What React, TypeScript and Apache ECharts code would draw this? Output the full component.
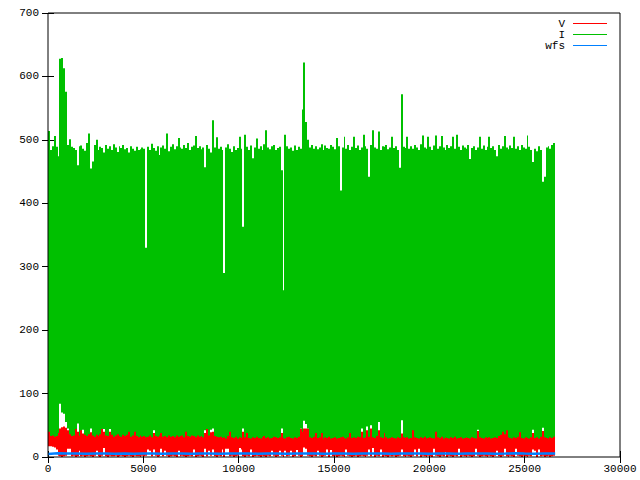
import React, { useEffect, useRef } from "react";
import * as echarts from "echarts";

// x step of one sample bin (units of the x axis), and end of the data
const BIN_STEP = 100;
const DATA_END = 26600;

// I (green): per-bin maximum
const I_HIGH = [
  514, 484, 490, 506, 489, 474, 628, 629, 613, 576,
  492, 501, 489, 487, 484, 460, 490, 491, 486, 483,
  495, 510, 455, 466, 492, 500, 484, 489, 487, 480,
  492, 486, 490, 484, 493, 488, 481, 490, 487, 492,
  485, 487, 480, 490, 486, 483, 489, 484, 485, 488,
  486, 330, 489, 484, 494, 487, 483, 490, 476, 488,
  491, 486, 510, 482, 489, 493, 485, 490, 503, 488,
  486, 492, 487, 495, 484, 489, 491, 506, 487, 490,
  485, 488, 457, 492, 486, 480, 531, 488, 504, 486,
  489, 484, 290, 488, 493, 486, 481, 490, 484, 487,
  505, 486, 363, 508, 489, 484, 491, 471, 488, 502,
  486, 490, 484, 493, 515, 488, 485, 490, 492, 484,
  487, 489, 452, 263, 508, 490, 486, 488, 483, 491,
  484, 489, 486, 548, 622, 528, 500, 488, 492, 486,
  490, 485, 488, 493, 484, 491, 487, 486, 492, 489,
  485, 503, 490, 420, 488, 505, 486, 492, 484, 489,
  505, 487, 491, 484, 488, 508, 490, 486, 442, 492,
  515, 488, 486, 513, 484, 490, 489, 492, 485, 488,
  505, 487, 490, 484, 456, 572, 489, 487, 505, 486,
  490, 486, 492, 488, 484, 493, 507, 488, 486, 505,
  489, 484, 491, 507, 486, 490, 506, 488, 484, 492,
  487, 490, 505, 486, 508, 489, 484, 491, 488, 486,
  492, 470, 487, 490, 484, 488, 505, 486, 491, 484,
  489, 505, 487, 490, 484, 474, 492, 486, 490, 506,
  488, 485, 491, 487, 505, 486, 490, 484, 492, 488,
  486, 507, 489, 484, 465, 486, 482, 490, 484, 434,
  442, 488, 490, 486, 492, 495,
];

// I (green): per-bin minimum
const I_LOW = [
  40, 33, 34, 32, 33, 38, 84, 70, 68, 55,
  45, 36, 33, 34, 44, 53, 34, 42, 43, 35,
  33, 36, 45, 34, 32, 35, 33, 36, 44, 44,
  34, 33, 44, 35, 32, 34, 36, 33, 32, 35,
  33, 35, 40, 32, 34, 40, 33, 31, 34, 32,
  33, 31, 32, 34, 31, 42, 33, 32, 34, 38,
  32, 33, 31, 34, 32, 33, 31, 34, 32, 33,
  34, 31, 40, 33, 32, 34, 33, 31, 34, 32,
  33, 31, 42, 44, 34, 43, 45, 33, 32, 31,
  32, 30, 31, 29, 33, 40, 31, 30, 32, 29,
  31, 30, 45, 31, 38, 30, 29, 31, 30, 32,
  30, 29, 31, 33, 30, 31, 29, 30, 32, 31,
  30, 31, 45, 30, 29, 31, 32, 30, 29, 31,
  30, 32, 45, 40, 57, 52, 45, 31, 30, 32,
  38, 30, 31, 38, 29, 31, 30, 32, 29, 30,
  31, 29, 30, 31, 32, 30, 29, 31, 38, 30,
  31, 30, 32, 31, 45, 30, 31, 48, 32, 50,
  31, 30, 33, 55, 31, 30, 38, 31, 29, 30,
  31, 30, 29, 31, 30, 58, 31, 30, 31, 29,
  30, 42, 31, 30, 29, 31, 30, 32, 29, 30,
  31, 30, 29, 40, 31, 30, 32, 29, 31, 30,
  29, 31, 30, 32, 29, 30, 31, 29, 30, 31,
  30, 29, 31, 30, 29, 43, 31, 30, 29, 31,
  30, 31, 29, 30, 31, 30, 33, 35, 40, 36,
  42, 31, 30, 29, 31, 30, 32, 39, 30, 29,
  31, 30, 29, 31, 43, 30, 31, 29, 32, 46,
  31, 30, 29, 31, 30, 32,
];

// V (red): per-bin maximum
const V_HIGH = [
  42, 38, 40, 37, 39, 40, 45, 47, 48, 46,
  42, 40, 38, 41, 46, 40, 39, 44, 37, 40,
  38, 41, 39, 40, 37, 42, 39, 41, 46, 40,
  39, 41, 40, 42, 38, 40, 41, 37, 39, 42,
  38, 40, 42, 39, 41, 43, 38, 40, 39, 37,
  40, 38, 41, 39, 40, 38, 39, 41, 40, 42,
  39, 41, 38, 40, 39, 37, 41, 40, 38, 39,
  41, 38, 42, 39, 40, 41, 38, 39, 40, 41,
  39, 40, 38, 46, 40, 39, 40, 41, 38, 40,
  37, 39, 38, 36, 40, 42, 38, 37, 39, 36,
  38, 37, 40, 39, 40, 37, 36, 39, 37, 38,
  37, 36, 38, 39, 37, 38, 36, 37, 39, 38,
  37, 38, 38, 37, 36, 38, 39, 37, 36, 38,
  37, 39, 45, 45, 45, 45, 45, 38, 37, 39,
  40, 37, 38, 40, 36, 38, 37, 39, 36, 37,
  38, 36, 37, 38, 39, 37, 36, 38, 40, 37,
  38, 37, 39, 38, 40, 37, 38, 42, 39, 45,
  38, 37, 39, 42, 38, 37, 40, 38, 36, 37,
  38, 37, 36, 38, 37, 37, 38, 37, 38, 36,
  37, 44, 38, 37, 36, 38, 37, 39, 36, 37,
  38, 37, 36, 42, 38, 37, 39, 36, 38, 37,
  36, 38, 37, 39, 36, 37, 38, 36, 37, 38,
  37, 36, 38, 37, 36, 41, 38, 37, 36, 38,
  37, 38, 36, 37, 38, 37, 39, 40, 42, 39,
  44, 38, 37, 36, 38, 37, 39, 41, 37, 36,
  38, 37, 36, 38, 38, 37, 38, 36, 39, 41,
  38, 37, 36, 38, 37, 39,
];

// V (red): per-bin minimum
const V_LOW = [
  17, 17, 16, 15, 12, 2, 1, 0, 1, 2,
  13, 13, 1, 2, 0, 1, 10, 1, 2, 0,
  1, 2, 1, 0, 2, 10, 1, 0, 2, 14,
  1, 0, 2, 1, 1, 2, 0, 1, 2, 1,
  0, 1, 2, 1, 0, 2, 1, 1, 0, 2,
  1, 2, 12, 10, 1, 12, 2, 0, 1, 13,
  1, 10, 2, 0, 1, 2, 1, 0, 10, 1,
  2, 1, 0, 1, 2, 1, 12, 0, 1, 2,
  1, 0, 13, 1, 10, 2, 12, 1, 0, 2,
  1, 12, 0, 13, 13, 1, 2, 0, 1, 2,
  14, 12, 1, 0, 2, 1, 12, 0, 1, 2,
  1, 0, 2, 1, 0, 2, 1, 10, 2, 0,
  1, 10, 2, 0, 10, 1, 2, 10, 0, 1,
  11, 2, 0, 1, 15, 13, 2, 1, 0, 2,
  1, 10, 2, 0, 1, 2, 12, 0, 11, 1,
  2, 0, 1, 2, 1, 0, 12, 2, 1, 0,
  1, 2, 0, 1, 2, 1, 0, 2, 12, 1,
  14, 0, 2, 1, 12, 0, 2, 1, 0, 2,
  1, 2, 0, 1, 2, 12, 1, 0, 2, 1,
  0, 2, 12, 1, 13, 0, 2, 1, 0, 2,
  1, 0, 13, 2, 1, 0, 2, 1, 8, 0,
  2, 1, 0, 2, 1, 13, 0, 2, 1, 0,
  2, 1, 0, 1, 13, 2, 0, 1, 2, 1,
  0, 2, 1, 0, 2, 10, 1, 0, 2, 13,
  1, 0, 2, 1, 0, 13, 2, 1, 0, 2,
  1, 0, 2, 1, 12, 10, 0, 12, 1, 2,
  0, 1, 2, 0, 1, 2,
];

// wfs (blue): sampled every 500 units
const WFS_STEP = 500;
const WFS = [
  4.8, 6.0, 5.4, 5.5, 5.3, 5.4, 5.5, 5.3, 5.4, 5.2,
  5.5, 5.4, 5.3, 5.5, 5.4, 5.3, 5.4, 5.5, 5.3, 5.4,
  5.5, 5.4, 5.3, 5.4, 5.5, 5.3, 5.4, 5.5, 5.4, 5.3,
  5.4, 5.5, 5.3, 5.4, 5.4, 5.5, 5.3, 5.4, 5.5, 5.4,
  5.3, 5.4, 5.5, 5.3, 5.4, 5.4, 5.5, 5.3, 5.4, 6.0,
  5.4, 5.3, 5.4, 5.5,
];

const SERIES_NAMES = ["V", "I", "wfs"];
const COLORS = ["#ff0000", "#00c000", "#0080ff"];
const X_TICKS = { min: 0, max: 30000, interval: 5000 };
const Y_TICKS = { min: 0, max: 700, interval: 100 };

const FONT = "Liberation Mono, DejaVu Sans Mono, monospace";
const GRID = { left: 48, top: 13, right: 20, bottom: 23 };

function bandData(low: number[], high: number[]) {
  return low.map((lo, i) => [i * BIN_STEP, lo, high[i]]);
}

// one column per bin, snapped to whole pixels so neighbours meet without seams
function bandRender(params: any, api: any) {
  const x0 = api.value(0);
  const lo = api.value(1);
  const hi = api.value(2);
  const x1 = Math.min(x0 + BIN_STEP, DATA_END);
  const p0 = api.coord([x0, hi]);
  const p1 = api.coord([x1, lo]);
  const left = Math.round(p0[0]);
  const right = Math.round(p1[0]);
  return {
    type: "rect",
    shape: {
      x: left,
      y: p0[1],
      width: Math.max(1, right - left),
      height: p1[1] - p0[1],
    },
    style: { fill: api.visual("color") },
  };
}

function bandSeries(name: string, color: string, low: number[], high: number[]) {
  return {
    name,
    type: "custom",
    renderItem: bandRender,
    itemStyle: { color },
    dimensions: ["x", "lo", "hi"],
    encode: { x: "x", y: ["lo", "hi"] },
    data: bandData(low, high),
    silent: true,
    clip: true,
  };
}

export default function App() {
  const ref = useRef<HTMLDivElement>(null);

  useEffect(() => {
    if (!ref.current) return;
    const chart = echarts.init(ref.current, undefined, { renderer: "svg" });

    const axisLabel = { fontFamily: FONT, fontSize: 11, color: "#000" };
    const tick = { show: true, inside: true, length: 6, lineStyle: { color: "#000" } };
    const xBase = {
      type: "value",
      ...X_TICKS,
      splitLine: { show: false },
      axisLine: { show: false },
      axisTick: tick,
    };
    const yBase = {
      type: "value",
      ...Y_TICKS,
      splitLine: { show: false },
      axisLine: { show: false },
      axisTick: tick,
    };

    const legendItem = (name: string, color: string, top: number) => ({
      data: [
        {
          name,
          icon: "rect",
          itemStyle: { color, borderWidth: 0, borderColor: color, opacity: 1 },
        },
      ],
      right: 33,
      top,
      padding: 0,
      align: "right",
      icon: "rect",
      itemWidth: 34,
      itemHeight: 1,
      selectedMode: false,
      itemStyle: { borderWidth: 0 },
      lineStyle: { width: 0 },
      textStyle: {
        fontFamily: FONT,
        fontSize: 11,
        color: "#000",
        lineHeight: 11,
        padding: [0, 3, 0, 0],
      },
    });

    const wfsData = WFS.map((v, i) => [
      i === WFS.length - 1 ? DATA_END : i * WFS_STEP,
      v,
    ]);

    chart.setOption({
      animation: false,
      backgroundColor: "#fff",
      grid: { ...GRID, containLabel: false, show: false },
      legend: [
        legendItem(SERIES_NAMES[0], COLORS[0], 18),
        legendItem(SERIES_NAMES[1], COLORS[1], 29),
        legendItem(SERIES_NAMES[2], COLORS[2], 40),
      ],
      xAxis: [
        {
          ...xBase,
          position: "bottom",
          axisLabel: { ...axisLabel, margin: 6, formatter: (v: number) => String(v) },
        },
        { ...xBase, position: "top", axisLabel: { show: false } },
      ],
      yAxis: [
        {
          ...yBase,
          position: "left",
          axisLabel: { ...axisLabel, margin: 9, formatter: (v: number) => String(v) },
        },
        { ...yBase, position: "right", axisLabel: { show: false } },
      ],
      graphic: [
        {
          type: "rect",
          silent: true,
          z: 100,
          shape: {
            x: GRID.left,
            y: GRID.top,
            width: 640 - GRID.left - GRID.right,
            height: 480 - GRID.top - GRID.bottom,
          },
          style: { fill: "none", stroke: "#000", lineWidth: 1 },
        },
      ],
      series: [
        bandSeries(SERIES_NAMES[0], COLORS[0], V_LOW, V_HIGH),
        bandSeries(SERIES_NAMES[1], COLORS[1], I_LOW, I_HIGH),
        {
          name: SERIES_NAMES[2],
          type: "line",
          data: wfsData,
          symbol: "none",
          showSymbol: false,
          silent: true,
          itemStyle: { color: COLORS[2] },
          lineStyle: { color: COLORS[2], width: 2.5 },
          clip: true,
        },
      ],
    });

    return () => chart.dispose();
  }, []);

  return (
    <div
      ref={ref}
      style={{
        position: "fixed",
        left: 0,
        top: 0,
        width: 640,
        height: 480,
        background: "#fff",
      }}
    />
  );
}
